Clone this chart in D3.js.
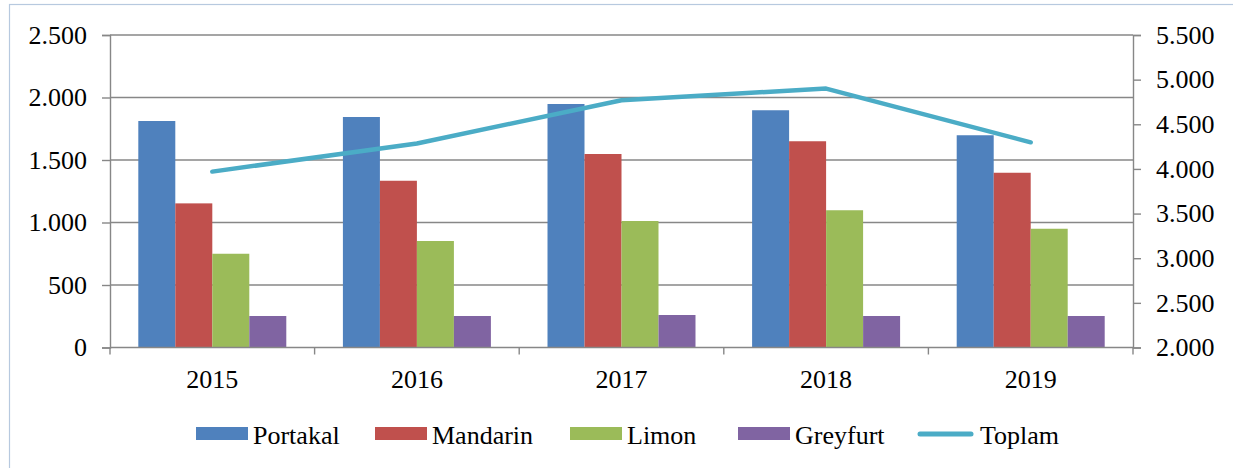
<!DOCTYPE html>
<html>
<head>
<meta charset="utf-8">
<script src="https://cdn.jsdelivr.net/npm/d3@7"></script>
<style>
html,body{margin:0;padding:0;background:#fff;}
svg{display:block;}
</style>
</head>
<body>
<svg id="chart" width="1233" height="468"></svg>
<script>
const years = ["2015","2016","2017","2018","2019"];
const seriesNames = ["Portakal","Mandarin","Limon","Greyfurt"];
const portakal = [1812,1844,1948,1898,1698];
const mandarin = [1153,1334,1548,1650,1398];
const limon    = [750,852,1012,1098,950];
const greyfurt = [252,252,260,252,252];
const toplam   = [3970,4285,4770,4900,4298];
const leftTicks  = [0,500,1000,1500,2000,2500];
const rightTicks = [2000,2500,3000,3500,4000,4500,5000,5500];
const colors = ["#4F81BD","#C0504D","#9BBB59","#8064A2"];
const lineColor = "#4BACC6";

const barData = [portakal, mandarin, limon, greyfurt];
const svg = d3.select("#chart");
const locale = d3.formatLocale({decimal:",", thousands:".", grouping:[3], currency:["",""]});
const fmt = locale.format(",");
const FONT = "'Liberation Serif', 'Times New Roman', serif";

const L = 110, R = 1133, T = 35, B = 347.5;
const gridColor = "#878787";

// frame
svg.append("rect").attr("x",9.5).attr("y",4.5).attr("width",1240).attr("height",480)
  .attr("fill","none").attr("stroke","#B7C9DF").attr("stroke-width",1.2);

const x = d3.scaleBand().domain(years).range([L,R]).paddingInner(0).paddingOuter(0);
const xi = d3.scaleBand().domain(seriesNames).range([0,x.bandwidth()]).paddingInner(0).paddingOuter(0.765);
const yL = d3.scaleLinear().domain([0,2500]).range([B,T]);
const yR = d3.scaleLinear().domain([2000,5500]).range([B,T]);

// gridlines
svg.append("g").selectAll("line").data(leftTicks.filter(d=>d>0)).join("line")
  .attr("x1",L).attr("x2",R).attr("y1",d=>yL(d)).attr("y2",d=>yL(d))
  .attr("stroke",gridColor).attr("stroke-width",1.4);

// bars
const g = svg.append("g");
seriesNames.forEach((s,si)=>{
  g.selectAll("rect.s"+si).data(years).join("rect")
    .attr("x",d=>x(d)+xi(s))
    .attr("width",xi.bandwidth())
    .attr("y",(d,i)=>yL(barData[si][i]))
    .attr("height",(d,i)=>B-yL(barData[si][i]))
    .attr("fill",colors[si]);
});

// left axis
const axL = svg.append("g").attr("transform",`translate(${L},0)`)
  .call(d3.axisLeft(yL).tickValues(leftTicks).tickFormat(fmt).tickSize(8).tickPadding(15));
// right axis
const axR = svg.append("g").attr("transform",`translate(${R},0)`)
  .call(d3.axisRight(yR).tickValues(rightTicks).tickFormat(fmt).tickSize(8).tickPadding(15));
// bottom axis
const axB = svg.append("g").attr("transform",`translate(0,${B})`)
  .call(d3.axisBottom(x).tickSize(0).tickPadding(33));
// category boundary ticks
svg.append("g").selectAll("line").data(years.concat(["end"])).join("line")
  .attr("x1",(d,i)=>L+i*x.bandwidth()).attr("x2",(d,i)=>L+i*x.bandwidth())
  .attr("y1",B).attr("y2",B+7).attr("stroke",gridColor).attr("stroke-width",1.4);

[axL,axR,axB].forEach(a=>{
  a.attr("font-family",FONT).attr("font-size",26);
  a.select(".domain").attr("stroke",gridColor).attr("stroke-width",1.4);
  a.selectAll(".tick line").attr("stroke",gridColor).attr("stroke-width",1.4);
  a.selectAll("text").attr("font-family",FONT).attr("font-size",26).attr("fill","#000");
});
axB.select(".domain").attr("d",`M${L},0H${R}`);
axB.selectAll(".tick text").attr("dy","0.71em").attr("y",22);

// line
const line = d3.line().x((d,i)=>x(years[i])+x.bandwidth()/2).y(d=>yR(d));
svg.append("path").datum(toplam).attr("d",line).attr("fill","none")
  .attr("stroke",lineColor).attr("stroke-width",4.5).attr("stroke-linecap","round").attr("stroke-linejoin","round");

// legend
const leg = svg.append("g").attr("font-family",FONT).attr("font-size",26);
const legItems = seriesNames.concat(["Toplam"]);
const legX = [196,375,570,738,918];
const ly = 434;
legItems.forEach((name,i)=>{
  const lx = legX[i];
  if(i<4){
    leg.append("rect").attr("x",lx).attr("y",ly-7).attr("width",52).attr("height",13).attr("fill",colors[i]);
  } else {
    leg.append("line").attr("x1",lx+2).attr("x2",lx+53).attr("y1",ly).attr("y2",ly)
      .attr("stroke",lineColor).attr("stroke-width",5).attr("stroke-linecap","round");
  }
  leg.append("text").attr("x",lx+(i<4?57:62)).attr("y",444).attr("fill","#000").text(name);
});
</script>
</body>
</html>
